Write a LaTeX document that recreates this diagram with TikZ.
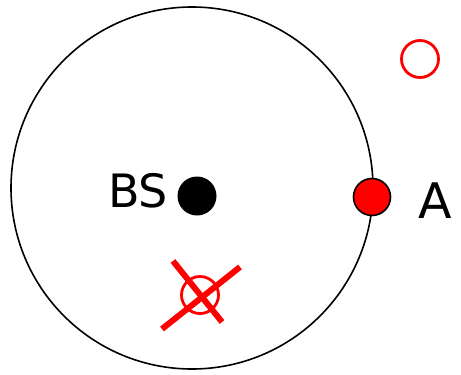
\documentclass[tikz,border=0pt]{standalone}
\usepackage{fontspec}
\setmainfont{DejaVu Sans}
\begin{document}
\begin{tikzpicture}[x=1pt,y=-1pt,
  hollow/.style={circle,draw=red,line width=2.8pt,minimum size=37pt,inner sep=0pt},
  lbl/.style={inner sep=0pt,anchor=base}]
\useasboundingbox (0,0) rectangle (461,375);
\node[circle,draw=black,line width=1.6pt,minimum size=362pt,inner sep=0pt] (cell) at (192,188) {};
\node[circle,fill=black,minimum size=39pt,inner sep=0pt] (bs) at (197,196) {};
\node[lbl,font=\fontsize{46}{46}\selectfont] (bslbl) at (138,207) {BS};
\node[circle,fill=red,draw=black,line width=1.6pt,minimum size=37pt,inner sep=0pt] (a) at (372,197) {};
\node[lbl,font=\fontsize{49}{49}\selectfont] (albl) at (435,218) {A};
\node[hollow] (r1) at (420,59) {};
\node[hollow] (r2) at (200,295) {};
\coordinate (x1a) at (173,261);
\coordinate (x1b) at (222,322);
\coordinate (x2a) at (162,329);
\coordinate (x2b) at (240,267);
\draw[red,line width=6pt] (x1a) -- (x1b);
\draw[red,line width=6pt] (x2a) -- (x2b);
\end{tikzpicture}
\end{document}
